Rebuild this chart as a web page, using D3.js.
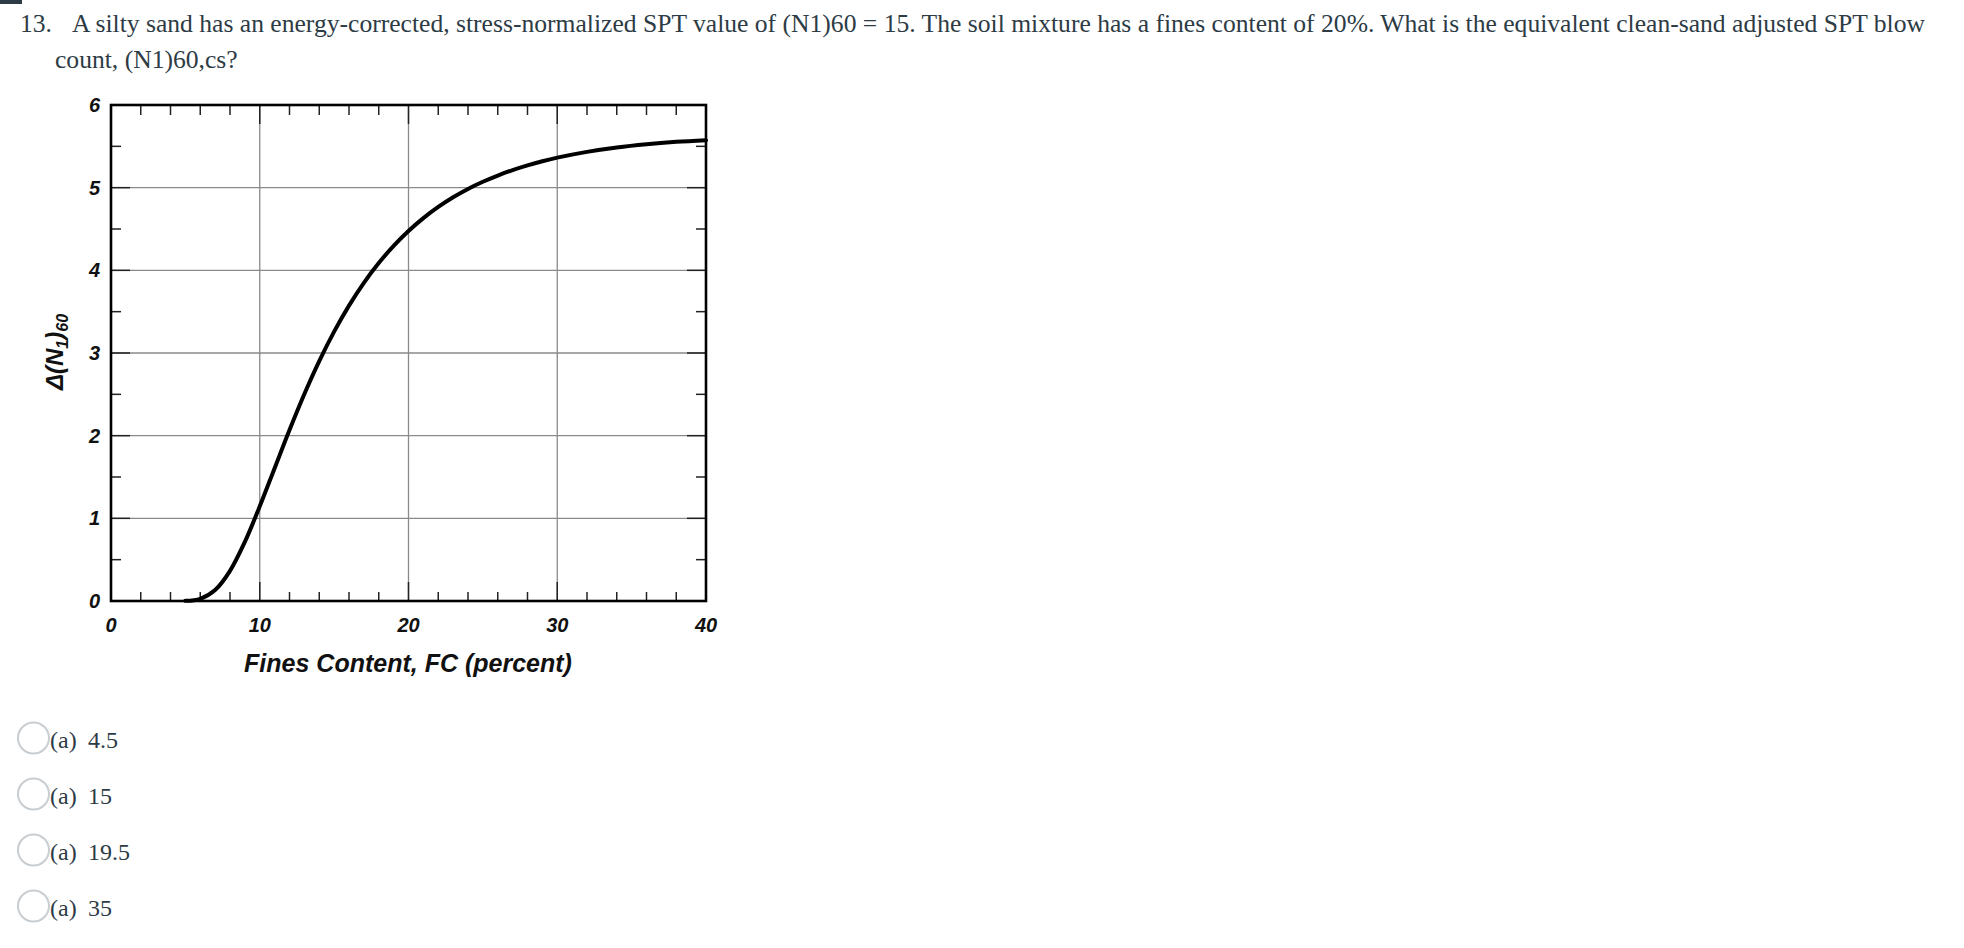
<!DOCTYPE html>
<html>
<head>
<meta charset="utf-8">
<script src="https://cdn.jsdelivr.net/npm/d3@7/dist/d3.min.js"></script>
<style>
  html, body { margin: 0; padding: 0; background: #fff; }
  svg { display: block; }
</style>
</head>
<body>
<svg id="chart" width="1964" height="948"></svg>
<script>
// ---- data ----
const fcValues = [5, 6, 7, 8, 9, 10, 11, 12, 13, 14, 15, 16, 17, 18, 19, 20, 21, 22, 23, 24, 25, 26, 27, 28, 29, 30, 32, 34, 36, 38, 40];
const deltaN   = [0.002, 0.027, 0.133, 0.365, 0.715, 1.145, 1.607, 2.068, 2.504, 2.902, 3.258, 3.573, 3.849, 4.088, 4.296, 4.476, 4.632, 4.767, 4.884, 4.985, 5.071, 5.147, 5.213, 5.270, 5.320, 5.363, 5.433, 5.486, 5.525, 5.554, 5.575];
const xTickLabels = [0, 10, 20, 30, 40];
const yTickLabels = [0, 1, 2, 3, 4, 5, 6];
const xMinorTicks = [2, 4, 6, 8, 12, 14, 16, 18, 22, 24, 26, 28, 32, 34, 36, 38];
const yMinorTicks = [0.5, 1.5, 2.5, 3.5, 4.5, 5.5];
const xGrid = [10, 20, 30];
const yGrid = [1, 2, 3, 4, 5];
const questionLine1Num = "13.";
const questionLine1 = "A silty sand has an energy-corrected, stress-normalized SPT value of (N1)60 = 15. The soil mixture has a fines content of 20%. What is the equivalent clean-sand adjusted SPT blow";
const questionLine2 = "count, (N1)60,cs?";
const optionLabels = ["(a)", "(a)", "(a)", "(a)"];
const optionValues = ["4.5", "15", "19.5", "35"];
const xTitle = "Fines Content, FC (percent)";

// ---- layout ----
const svg = d3.select("#chart");
const textColor = "#2d3b45";
const serif = "'Liberation Serif', 'Times New Roman', serif";
const sans = "'Liberation Sans', Arial, sans-serif";

// top-left bar
svg.append("rect").attr("x", 0).attr("y", 0).attr("width", 22).attr("height", 4).attr("fill", "#2d3b45");

// question text
const qSize = 25.6;
svg.append("text").attr("x", 20).attr("y", 32).attr("font-family", serif).attr("font-size", qSize)
  .attr("fill", textColor).text(questionLine1Num);
svg.append("text").attr("x", 72).attr("y", 32).attr("font-family", serif).attr("font-size", qSize)
  .attr("fill", textColor).text(questionLine1);
svg.append("text").attr("x", 55).attr("y", 68).attr("font-family", serif).attr("font-size", qSize)
  .attr("fill", textColor).text(questionLine2);

// scales
const x = d3.scaleLinear().domain([0, 40]).range([111, 706]);
const y = d3.scaleLinear().domain([0, 6]).range([601, 105]);

const g = svg.append("g");

// grid
g.selectAll("line.xg").data(xGrid).join("line")
  .attr("x1", d => x(d)).attr("x2", d => x(d)).attr("y1", y(6)).attr("y2", y(0))
  .attr("stroke", "#8a8a8a").attr("stroke-width", 1.3);
g.selectAll("line.yg").data(yGrid).join("line")
  .attr("y1", d => y(d)).attr("y2", d => y(d)).attr("x1", x(0)).attr("x2", x(40))
  .attr("stroke", "#8a8a8a").attr("stroke-width", 1.3);

const tickColor = "#222";
// x minor ticks, bottom and top
g.selectAll("line.xmb").data(xMinorTicks).join("line")
  .attr("x1", d => x(d)).attr("x2", d => x(d)).attr("y1", y(0)).attr("y2", y(0) - 9)
  .attr("stroke", tickColor).attr("stroke-width", 1.5);
g.selectAll("line.xmt").data(xMinorTicks).join("line")
  .attr("x1", d => x(d)).attr("x2", d => x(d)).attr("y1", y(6)).attr("y2", y(6) + 10)
  .attr("stroke", tickColor).attr("stroke-width", 1.5);
// x major ticks
g.selectAll("line.xMb").data(xGrid).join("line")
  .attr("x1", d => x(d)).attr("x2", d => x(d)).attr("y1", y(0)).attr("y2", y(0) - 19)
  .attr("stroke", tickColor).attr("stroke-width", 1.5);
g.selectAll("line.xMt").data(xGrid).join("line")
  .attr("x1", d => x(d)).attr("x2", d => x(d)).attr("y1", y(6)).attr("y2", y(6) + 19)
  .attr("stroke", tickColor).attr("stroke-width", 1.5);
// y minor ticks left/right
g.selectAll("line.yml").data(yMinorTicks).join("line")
  .attr("y1", d => y(d)).attr("y2", d => y(d)).attr("x1", x(0)).attr("x2", x(0) + 10)
  .attr("stroke", tickColor).attr("stroke-width", 1.5);
g.selectAll("line.ymr").data(yMinorTicks).join("line")
  .attr("y1", d => y(d)).attr("y2", d => y(d)).attr("x1", x(40)).attr("x2", x(40) - 10)
  .attr("stroke", tickColor).attr("stroke-width", 1.5);
g.selectAll("line.yMl").data(yGrid).join("line")
  .attr("y1", d => y(d)).attr("y2", d => y(d)).attr("x1", x(0)).attr("x2", x(0) + 19)
  .attr("stroke", tickColor).attr("stroke-width", 1.5);
g.selectAll("line.yMr").data(yGrid).join("line")
  .attr("y1", d => y(d)).attr("y2", d => y(d)).attr("x1", x(40)).attr("x2", x(40) - 19)
  .attr("stroke", tickColor).attr("stroke-width", 1.5);

// frame
g.append("rect").attr("x", x(0)).attr("y", y(6)).attr("width", x(40) - x(0)).attr("height", y(0) - y(6))
  .attr("fill", "none").attr("stroke", "#000").attr("stroke-width", 2.6);

// curve
const pts = fcValues.map((fc, i) => [fc, deltaN[i]]);
const line = d3.line().x(d => x(d[0])).y(d => y(d[1])).curve(d3.curveCatmullRom.alpha(0.5));
g.append("path").attr("d", line(pts)).attr("fill", "none").attr("stroke", "#000")
  .attr("stroke-width", 4).attr("stroke-linecap", "round");

// tick labels
g.selectAll("text.xl").data(xTickLabels).join("text")
  .attr("x", d => x(d)).attr("y", 632).attr("text-anchor", "middle")
  .attr("font-family", sans).attr("font-weight", "bold").attr("font-style", "italic")
  .attr("font-size", 20).attr("fill", "#111").text(d => d);
g.selectAll("text.yl").data(yTickLabels).join("text")
  .attr("x", 100).attr("y", d => y(d)).attr("dy", "0.35em").attr("text-anchor", "end")
  .attr("font-family", sans).attr("font-weight", "bold").attr("font-style", "italic")
  .attr("font-size", 20).attr("fill", "#111").text(d => d);

// axis titles
g.append("text").attr("x", 408).attr("y", 672).attr("text-anchor", "middle")
  .attr("font-family", sans).attr("font-weight", "bold").attr("font-style", "italic")
  .attr("font-size", 25).attr("fill", "#111").text(xTitle);

const yt = g.append("text").attr("transform", "translate(63,352) rotate(-90)").attr("text-anchor", "middle")
  .attr("font-family", sans).attr("font-weight", "bold").attr("font-style", "italic")
  .attr("font-size", 24).attr("fill", "#111");
yt.append("tspan").text("Δ(N");
yt.append("tspan").attr("font-size", 16).attr("dy", 5).text("1");
yt.append("tspan").attr("dy", -5).text(")");
yt.append("tspan").attr("font-size", 16).attr("dy", 5).text("60");

// options
const optY = [738, 794, 850, 906];
const og = svg.selectAll("g.opt").data(optionValues).join("g");
og.append("circle").attr("cx", 33.5).attr("cy", (d, i) => optY[i]).attr("r", 15.5)
  .attr("fill", "#fff").attr("stroke", "#c7cdd1").attr("stroke-width", 2);
og.append("text").attr("x", 50).attr("y", (d, i) => optY[i] + 9.5)
  .attr("font-family", serif).attr("font-size", 24).attr("fill", textColor).text((d, i) => optionLabels[i]);
og.append("text").attr("x", 88).attr("y", (d, i) => optY[i] + 9.5)
  .attr("font-family", serif).attr("font-size", 24).attr("fill", textColor).text(d => d);
</script>
</body>
</html>
